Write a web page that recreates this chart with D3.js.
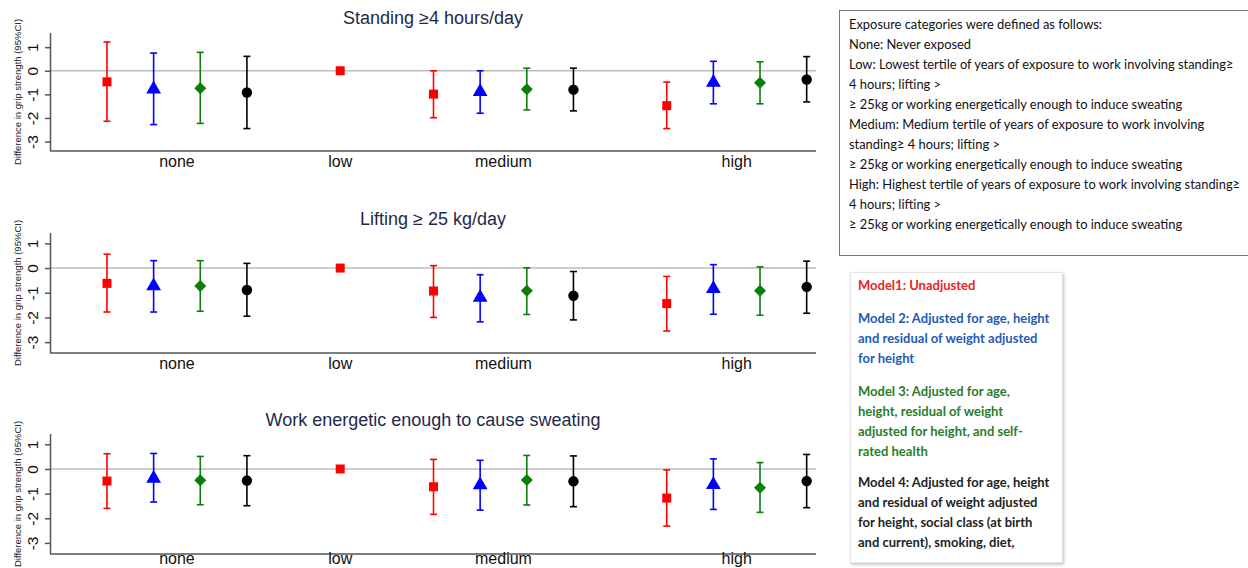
<!DOCTYPE html>
<html>
<head>
<meta charset="utf-8">
<script src="https://cdn.jsdelivr.net/npm/d3@7"></script>
<style>
  body { margin: 0; background: #fff; }
  svg { display: block; }
</style>
</head>
<body>
<div id="chart"></div>
<script>
// categories and models
var categories = ["none", "low", "medium", "high"];
var models = ["Model1", "Model2", "Model3", "Model4"];
var panelTitles = ["Standing \u22654 hours/day", "Lifting \u2265 25 kg/day", "Work energetic enough to cause sweating"];
var yTicks = [1, 0, -1, -2, -3];

// estimates per category (low = reference, only one value)
var standingEst = [[-0.47, -0.78, -0.74, -0.92], [0], [-0.99, -0.89, -0.78, -0.80], [-1.48, -0.50, -0.51, -0.37]];
var standingLo  = [[-2.14, -2.28, -2.23, -2.45], [0], [-1.99, -1.80, -1.66, -1.70], [-2.45, -1.40, -1.40, -1.32]];
var standingHi  = [[1.22, 0.75, 0.78, 0.61], [0], [0.00, 0.00, 0.11, 0.11], [-0.48, 0.40, 0.38, 0.60]];

var liftingEst = [[-0.62, -0.73, -0.73, -0.89], [0], [-0.93, -1.19, -0.92, -1.12], [-1.44, -0.84, -0.92, -0.76]];
var liftingLo  = [[-1.78, -1.78, -1.75, -1.95], [0], [-2.00, -2.18, -1.88, -2.10], [-2.55, -1.87, -1.91, -1.83]];
var liftingHi  = [[0.56, 0.30, 0.30, 0.19], [0], [0.10, -0.27, 0.01, -0.14], [-0.34, 0.14, 0.05, 0.28]];

var sweatEst = [[-0.49, -0.38, -0.46, -0.47], [0], [-0.72, -0.65, -0.45, -0.50], [-1.18, -0.64, -0.76, -0.49]];
var sweatLo  = [[-1.60, -1.34, -1.45, -1.49], [0], [-1.84, -1.67, -1.46, -1.53], [-2.32, -1.64, -1.76, -1.57]];
var sweatHi  = [[0.62, 0.63, 0.51, 0.54], [0], [0.39, 0.35, 0.55, 0.53], [-0.04, 0.41, 0.26, 0.59]];

var definitionLines = [
  "Exposure categories were defined as follows:",
  "None: Never exposed",
  "Low: Lowest tertile of years of exposure to work involving standing\u2265",
  "4 hours; lifting >",
  "\u2265 25kg or working energetically enough to induce sweating",
  "Medium: Medium tertile of years of exposure to work involving",
  "standing\u2265 4 hours; lifting >",
  "\u2265 25kg or working energetically enough to induce sweating",
  "High: Highest tertile of years of exposure to work involving standing\u2265",
  "4 hours; lifting >",
  "\u2265 25kg or working energetically enough to induce sweating"
];
var modelLines = [
  ["Model1: Unadjusted"],
  ["Model 2: Adjusted for age, height", "and residual of weight adjusted", "for height"],
  ["Model 3: Adjusted for age,", "height, residual of weight", "adjusted for height, and self-", "rated health"],
  ["Model 4: Adjusted for age, height", "and residual of weight adjusted", "for height, social class (at birth", "and current), smoking, diet,"]
];

var W = 1248, H = 568;
var colors = ["#ff0000", "#0000ff", "#0a7d0a", "#000000"];
var textColors = ["#e8242a", "#1f5bb5", "#2a7d2a", "#222222"];
// green diamond = square turned 45 degrees
var symbols = [d3.symbolSquare, d3.symbolTriangle, d3.symbolSquare, d3.symbolCircle];
var symRot = [0, 0, 45, 0];
var symSize = [81, 95, 72, 85];

var panels = [
  {title: panelTitles[0], est: standingEst, lo: standingLo, hi: standingHi, top: 33, bottom: 151, dom: [-3.4, 1.6], titleY: 24},
  {title: panelTitles[1], est: liftingEst, lo: liftingLo, hi: liftingHi, top: 233, bottom: 353, dom: [-3.44, 1.42], titleY: 225},
  {title: panelTitles[2], est: sweatEst, lo: sweatLo, hi: sweatHi, top: 434, bottom: 554, dom: [-3.45, 1.42], titleY: 426}
];

// slot layout: groups of 4 with one gap, low has one slot
var groupStart = [0, 5, 7, 12];
var x = d3.scaleLinear().domain([-1.2, 15.2]).range([51, 816]);

var svg = d3.select("#chart").append("svg")
  .attr("width", W)
  .attr("height", H);

panels.forEach(function (p) {
  var y = d3.scaleLinear().domain(p.dom).range([p.bottom, p.top]);
  var g = svg.append("g");

  g.append("text")
    .attr("x", 433)
    .attr("y", p.titleY)
    .attr("text-anchor", "middle")
    .style("font-family", "Liberation Sans, Arial, sans-serif")
    .style("font-size", "18px")
    .style("fill", "#1e2a4a")
    .text(p.title);

  // zero reference line
  g.append("line")
    .attr("x1", x.range()[0]).attr("x2", x.range()[1])
    .attr("y1", y(0)).attr("y2", y(0))
    .style("stroke", "#bdbdbd").style("stroke-width", 1.5);

  // y axis
  var yAxis = d3.axisLeft(y).tickValues(yTicks).tickSize(6).tickFormat(function (d) { return d < 0 ? "-" + Math.abs(d) : d; });
  var ya = g.append("g")
    .attr("transform", "translate(" + x.range()[0] + ",0)")
    .call(yAxis);
  ya.select(".domain").attr("d", "M-0.5," + p.top + "V" + p.bottom).style("stroke", "#555").style("stroke-width", 1.5);
  ya.selectAll(".tick line").style("stroke", "#555").style("stroke-width", 1.5);
  ya.selectAll(".tick text")
    .attr("x", null).attr("dy", null)
    .attr("transform", "translate(-19,0) rotate(-90)")
    .attr("text-anchor", "middle")
    .attr("dominant-baseline", "central")
    .style("font-family", "Liberation Sans, Arial, sans-serif")
    .style("font-size", "15.5px")
    .style("fill", "#111");

  // x axis line
  g.append("line")
    .attr("x1", x.range()[0] - 1).attr("x2", x.range()[1])
    .attr("y1", p.bottom).attr("y2", p.bottom)
    .style("stroke", "#555").style("stroke-width", 1.5);

  // category labels
  categories.forEach(function (c, ci) {
    var n = p.est[ci].length;
    g.append("text")
      .attr("x", x(groupStart[ci] + (n - 1) / 2))
      .attr("y", Math.min(p.bottom + 16, 564))
      .attr("text-anchor", "middle")
      .style("font-family", "Liberation Sans, Arial, sans-serif")
      .style("font-size", "16px")
      .style("fill", "#111")
      .text(c);
  });

  // y label
  g.append("text")
    .attr("transform", "translate(" + 17 + "," + ((p.top + p.bottom) / 2) + ") rotate(-90)")
    .attr("text-anchor", "middle")
    .attr("dominant-baseline", "central")
    .style("font-family", "Liberation Sans, Arial, sans-serif")
    .style("font-size", "9.5px")
    .style("fill", "#222")
    .text("Difference in grip strength (95%CI)");

  // error bars and markers
  p.est.forEach(function (vals, ci) {
    vals.forEach(function (v, mi) {
      var cx = x(groupStart[ci] + mi);
      var lo = p.lo[ci][mi], hi = p.hi[ci][mi];
      if (lo !== hi) {
        var eb = g.append("g").style("stroke", colors[mi]).style("stroke-width", 1.6);
        eb.append("line").attr("x1", cx).attr("x2", cx).attr("y1", y(lo)).attr("y2", y(hi));
        eb.append("line").attr("x1", cx - 3.5).attr("x2", cx + 3.5).attr("y1", y(lo)).attr("y2", y(lo));
        eb.append("line").attr("x1", cx - 3.5).attr("x2", cx + 3.5).attr("y1", y(hi)).attr("y2", y(hi));
      }
      g.append("path")
        .attr("d", d3.symbol().type(symbols[mi]).size(symSize[mi]))
        .attr("transform", "translate(" + cx + "," + y(v) + ") rotate(" + symRot[mi] + ")")
        .style("fill", colors[mi]);
    });
  });
});

// definitions box
svg.append("rect")
  .attr("x", 839.5).attr("y", 10.5).attr("width", 420).attr("height", 245)
  .style("fill", "#fff").style("stroke", "#777").style("stroke-width", 1);
svg.append("g").selectAll("text")
  .data(definitionLines)
  .enter().append("text")
  .attr("x", 849)
  .attr("y", function (d, i) { return 28.5 + i * 20; })
  .style("font-family", "Lato, Carlito, sans-serif")
  .style("font-size", "12.9px")
  .style("fill", "#111")
  .text(function (d) { return d; });

// models legend box
var defs = svg.append("defs");
var f = defs.append("filter").attr("id", "sh").attr("x", "-10%").attr("y", "-10%").attr("width", "130%").attr("height", "130%");
f.append("feDropShadow").attr("dx", 1).attr("dy", 1.5).attr("stdDeviation", 1.5).attr("flood-color", "#000").attr("flood-opacity", 0.25);
svg.append("rect")
  .attr("x", 850.5).attr("y", 272.5).attr("width", 212).attr("height", 290)
  .style("fill", "#fff").style("stroke", "#e4e4e4")
  .attr("filter", "url(#sh)");

var starts = [290, 323, 396, 487];
modelLines.forEach(function (lines, mi) {
  svg.append("g").selectAll("text")
    .data(lines)
    .enter().append("text")
    .attr("x", 858)
    .attr("y", function (d, i) { return starts[mi] + i * 20; })
    .style("font-family", "Lato, Carlito, sans-serif")
    .style("font-weight", "bold")
    .style("font-size", "13px")
    .style("fill", textColors[mi])
    .text(function (d) { return d; });
});
</script>
</body>
</html>
